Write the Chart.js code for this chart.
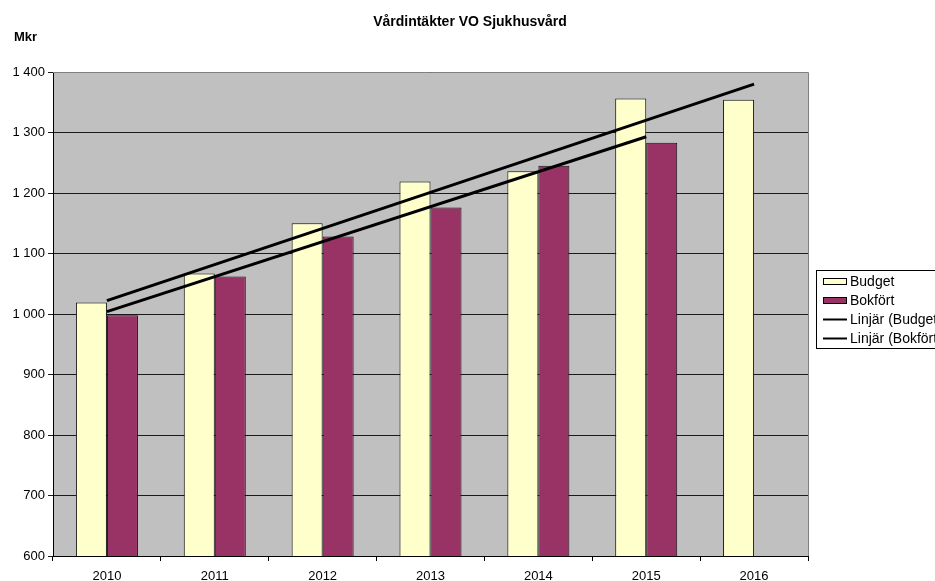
<!DOCTYPE html>
<html>
<head>
<meta charset="utf-8">
<script src="https://cdn.jsdelivr.net/npm/chart.js@4.4.1/dist/chart.umd.min.js"></script>
<style>
    html, body { margin: 0; padding: 0; background: #fff; }
    #wrap { width: 935px; height: 581px; }
</style>
</head>
<body>
<div id="wrap"><canvas id="chart-vard" width="935" height="581"></canvas></div>
<script>
'use strict';

var years = ['2010', '2011', '2012', '2013', '2014', '2015', '2016'];
var budget = [1019, 1067, 1150, 1219, 1236, 1356, 1354];
var bokfort = [998, 1062, 1128, 1176, 1245, 1283, null];
// trend line end points
var budgetTrend = [1022, null, null, null, null, null, 1380];
var bokfortTrend = [1004, null, null, null, null, 1293, null];
var legendLabels = ['Budget', 'Bokfört', 'Linjär (Budget)', 'Linjär (Bokfört)'];

var FONT = 'Arial, "Liberation Sans", sans-serif';

var fmtThousand = function(v) {
    return String(v).replace(/\B(?=(\d{3})+$)/g, ' ');
};

var plotDecor = {
    id: 'plotDecor',
    beforeDraw: function(chart) {
        var c = chart.ctx, a = chart.chartArea;
        c.save();
        c.fillStyle = '#c0c0c0';
        c.fillRect(a.left, a.top, a.right - a.left, a.bottom - a.top);
        c.restore();
    },
    afterDatasetsDraw: function(chart) {
        var c = chart.ctx, a = chart.chartArea;
        c.save();
        c.strokeStyle = '#808080';
        c.lineWidth = 1;
        c.beginPath();
        c.moveTo(a.left, a.top + 0.5);
        c.lineTo(a.right + 0.5, a.top + 0.5);
        c.lineTo(a.right + 0.5, a.bottom);
        c.stroke();
        c.restore();
    },
    afterDraw: function(chart) {
        var c = chart.ctx;
        c.save();
        c.fillStyle = '#000';
        c.textBaseline = 'middle';
        c.font = 'bold 14px ' + FONT;
        c.textAlign = 'center';
        c.fillText('Vårdintäkter VO Sjukhusvård', 470, 22);
        c.font = 'bold 13px ' + FONT;
        c.textAlign = 'left';
        c.fillText('Mkr', 14, 37);

        // legend box
        c.strokeStyle = '#000';
        c.lineWidth = 1;
        c.fillStyle = '#fff';
        c.fillRect(816, 270, 140, 78);
        c.strokeRect(816.5, 270.5, 140, 78);
        c.font = '14px ' + FONT;
        var y0 = 281;
        for (var i = 0; i < legendLabels.length; i++) {
            var y = y0 + i * 19;
            if (i < 2) {
                c.fillStyle = i === 0 ? '#ffffcc' : '#993366';
                c.fillRect(823, y - 3, 24, 7);
                c.strokeStyle = '#000';
                c.strokeRect(823.5, y - 2.5, 23, 6);
            } else {
                c.strokeStyle = '#000';
                c.lineWidth = 2;
                c.beginPath();
                c.moveTo(823, y + 0.5);
                c.lineTo(847, y + 0.5);
                c.stroke();
                c.lineWidth = 1;
            }
            c.fillStyle = '#000';
            c.fillText(legendLabels[i], 850, y + 1);
        }
        c.restore();
    }
};

var ctx_vard = document.getElementById('chart-vard').getContext('2d');

var chart_vard = new Chart(ctx_vard, {
    type: 'bar',
    data: {
        labels: years,
        datasets: [{
                label: 'Budget',
                data: budget,
                backgroundColor: '#ffffcc',
                borderColor: '#111',
                borderWidth: 1,
                barPercentage: 1.0,
                categoryPercentage: 0.575,
                order: 2
            },
            {
                label: 'Bokfört',
                data: bokfort,
                backgroundColor: '#993366',
                borderColor: '#111',
                borderWidth: 1,
                barPercentage: 1.0,
                categoryPercentage: 0.575,
                order: 2
            },
            {
                type: 'line',
                label: 'Linjär (Budget)',
                data: budgetTrend,
                borderColor: '#000',
                borderWidth: 3,
                pointRadius: 0,
                spanGaps: true,
                fill: false,
                order: 0
            },
            {
                type: 'line',
                label: 'Linjär (Bokfört)',
                data: bokfortTrend,
                borderColor: '#000',
                borderWidth: 3,
                pointRadius: 0,
                spanGaps: true,
                fill: false,
                order: 1
            }
        ]
    },
    options: {
        responsive: false,
        animation: false,
        layout: {
            padding: { top: 72, right: 127, left: 0, bottom: 0 }
        },
        plugins: {
            legend: { display: false },
            title: { display: false },
            tooltip: { enabled: false }
        },
        scales: {
            x: {
                offset: true,
                grid: {
                    offset: true,
                    drawOnChartArea: false,
                    drawTicks: true,
                    tickLength: 5,
                    color: '#000'
                },
                border: { color: '#000', width: 1 },
                ticks: {
                    color: '#000',
                    padding: 8,
                    font: { family: FONT, size: 13 }
                },
                afterFit: function(s) { s.height = 25; }
            },
            y: {
                min: 600,
                max: 1400,
                grid: {
                    color: '#1a1a1a',
                    lineWidth: 1,
                    drawTicks: true,
                    tickLength: 5
                },
                border: { color: '#000', width: 1 },
                ticks: {
                    stepSize: 100,
                    color: '#000',
                    padding: 3,
                    font: { family: FONT, size: 13 },
                    callback: function(v) { return fmtThousand(v); }
                },
                afterFit: function(s) { s.width = 53; }
            }
        }
    },
    plugins: [plotDecor]
});
</script>
</body>
</html>
